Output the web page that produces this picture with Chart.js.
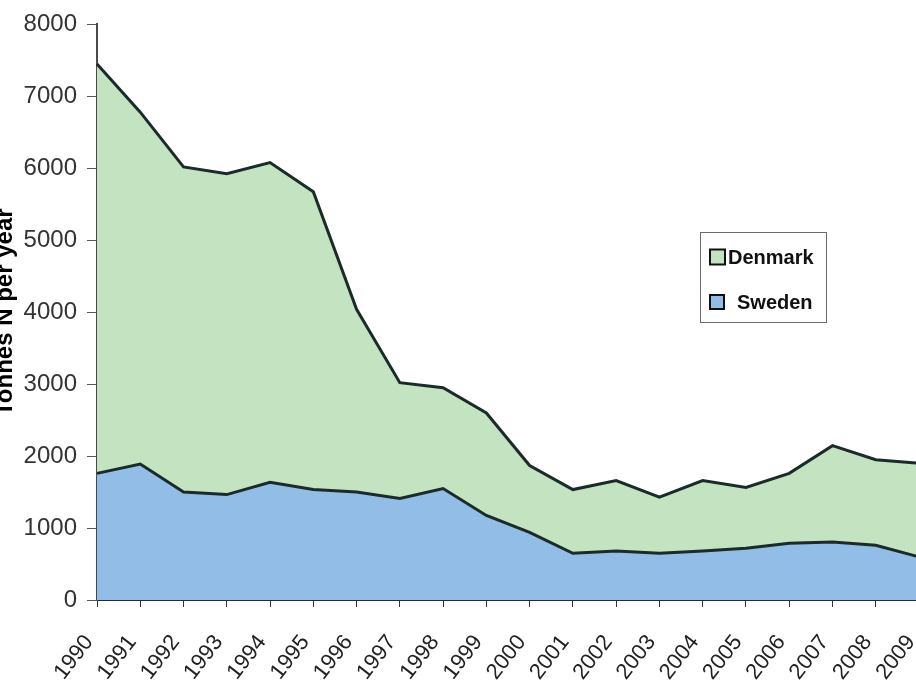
<!DOCTYPE html>
<html>
<head>
<meta charset="utf-8">
<script src="https://cdn.jsdelivr.net/npm/chart.js@4.4.0/dist/chart.umd.min.js"></script>
<style>
  html, body { margin: 0; padding: 0; background: #ffffff; overflow: hidden; width: 916px; height: 691px; }
  #wrap { position: absolute; left: -9px; top: 0; width: 940px; height: 720px; }
</style>
</head>
<body>
<div id="wrap"><canvas id="c" width="940" height="720"></canvas></div>
<script>
// ---- data ----
const years = ["1990","1991","1992","1993","1994","1995","1996","1997","1998","1999",
               "2000","2001","2002","2003","2004","2005","2006","2007","2008","2009"];
const sweden  = [1760,1890,1500,1465,1635,1535,1500,1410,1550,1175,
                 940,650,680,650,680,720,790,805,760,600];
const denmark = [5690,4890,4520,4460,4445,4140,2540,1610,1400,1425,
                 930,885,980,780,980,845,970,1340,1190,1300];
const yTicks = [0,1000,2000,3000,4000,5000,6000,7000,8000];
const yTitle = "Tonnes N per year";

const FONT = 'Arial, "Liberation Sans", sans-serif';
const GREEN = '#c4e3c0';
const BLUE = '#92bde6';
const LINE = '#1b2a2a';

const legendPlugin = {
  id: 'boxLegend',
  afterDraw(chart) {
    const ctx = chart.ctx;
    const ox = 9; // canvas offset relative to page
    ctx.save();
    ctx.strokeStyle = '#6a6a6a';
    ctx.lineWidth = 1;
    ctx.strokeRect(700.5 + ox, 232.5, 126, 90);
    const items = [
      { label: chart.data.datasets[1].label, color: GREEN, y: 257, bx: 710, size: 15, tx: 728 },
      { label: chart.data.datasets[0].label, color: BLUE,  y: 302, bx: 710, size: 14, tx: 737 }
    ];
    ctx.font = 'bold 20px ' + FONT;
    ctx.textBaseline = 'middle';
    ctx.textAlign = 'left';
    items.forEach(it => {
      ctx.fillStyle = it.color;
      ctx.fillRect(it.bx + ox, it.y - it.size/2, it.size, it.size);
      ctx.strokeStyle = '#111';
      ctx.lineWidth = 2;
      ctx.strokeRect(it.bx + ox, it.y - it.size/2, it.size, it.size);
      ctx.fillStyle = '#111';
      ctx.fillText(it.label, it.tx + ox, it.y + 1);
    });
    ctx.restore();
  }
};

new Chart(document.getElementById('c'), {
  type: 'line',
  data: {
    labels: years,
    datasets: [
      {
        label: 'Sweden',
        data: sweden,
        backgroundColor: BLUE,
        borderColor: LINE,
        borderWidth: 3,
        pointRadius: 0,
        fill: 'origin',
        tension: 0
      },
      {
        label: 'Denmark',
        data: denmark,
        backgroundColor: GREEN,
        borderColor: LINE,
        borderWidth: 3,
        pointRadius: 0,
        fill: '-1',
        tension: 0
      }
    ]
  },
  options: {
    responsive: false,
    animation: false,
    events: [],
    layout: { padding: { top: 22, right: 12, left: 0, bottom: 0 } },
    plugins: {
      legend: { display: false },
      tooltip: { enabled: false },
      title: { display: false }
    },
    scales: {
      x: {
        offset: false,
        grid: { display: true, drawOnChartArea: false, drawTicks: true, tickLength: 7, color: '#333', offset: false },
        border: { display: true, color: '#2a2a2a', width: 2 },
        ticks: {
          color: '#222',
          font: { family: FONT, size: 22 },
          maxRotation: 52,
          minRotation: 52,
          autoSkip: false,
          padding: 23,
          labelOffset: -8
        },
        afterFit(scale) { scale.height = 120; scale.paddingRight = 0; scale.paddingLeft = 0; }
      },
      y: {
        stacked: true,
        min: 0,
        max: 8000,
        afterBuildTicks(scale) { scale.ticks = yTicks.map(v => ({ value: v })); },
        grid: { display: true, drawOnChartArea: false, drawTicks: true, tickLength: 10, color: '#555' },
        border: { display: true, color: '#4a4a4a', width: 2 },
        ticks: {
          color: '#333',
          font: { family: FONT, size: 24 },
          padding: 10,
          callback: (v) => String(v)
        },
        title: {
          display: true,
          text: yTitle,
          color: '#000',
          font: { family: FONT, size: 24, weight: 'bold' },
          padding: { top: 0, bottom: 0 }
        },
        afterFit(scale) { scale.width = 106; }
      }
    }
  },
  plugins: [legendPlugin]
});
</script>
</body>
</html>
